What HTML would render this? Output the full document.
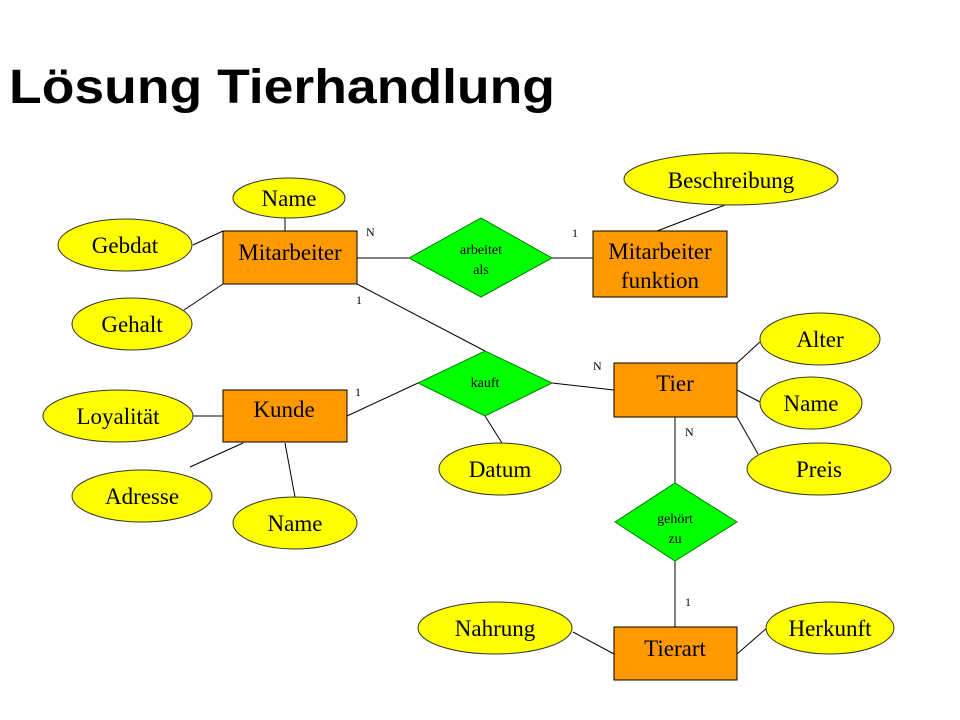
<!DOCTYPE html>
<html><head><meta charset="utf-8"><style>
html,body{margin:0;padding:0;background:#fff;width:960px;height:720px;overflow:hidden}
svg{display:block}
</style></head><body>
<svg width="960" height="720" viewBox="0 0 960 720">
<text x="9" y="103" font-family="Liberation Sans,sans-serif" font-weight="bold" font-size="48" fill="#000" textLength="546" lengthAdjust="spacingAndGlyphs">Lösung Tierhandlung</text>
<g stroke="#000" stroke-width="1" fill="none">
<line x1="285" y1="218" x2="285" y2="231"/>
<line x1="193" y1="245" x2="223" y2="231"/>
<line x1="184" y1="310" x2="223" y2="284"/>
<line x1="357" y1="258" x2="409" y2="258"/>
<line x1="552" y1="258" x2="593" y2="258"/>
<line x1="725" y1="205" x2="657" y2="231"/>
<line x1="357" y1="284" x2="485" y2="351"/>
<line x1="347" y1="416" x2="418" y2="383"/>
<line x1="552" y1="383" x2="614" y2="390"/>
<line x1="485" y1="416" x2="502" y2="443"/>
<line x1="193" y1="416" x2="223" y2="416"/>
<line x1="190" y1="467" x2="243" y2="443"/>
<line x1="285" y1="443" x2="295" y2="497"/>
<line x1="737" y1="363" x2="762" y2="340"/>
<line x1="737" y1="390" x2="762" y2="403"/>
<line x1="737" y1="417" x2="758" y2="454"/>
<line x1="675" y1="417" x2="675" y2="483"/>
<line x1="675" y1="561" x2="675" y2="627"/>
<line x1="573" y1="632" x2="614" y2="654"/>
<line x1="768" y1="627" x2="737" y2="654"/>
</g>
<g fill="#ffff00" stroke="#333" stroke-width="1">
<ellipse cx="289" cy="198" rx="56" ry="20"/>
<ellipse cx="125" cy="245" rx="67" ry="26"/>
<ellipse cx="132" cy="324" rx="60" ry="26"/>
<ellipse cx="731" cy="179" rx="107" ry="26"/>
<ellipse cx="118" cy="416" rx="75" ry="26"/>
<ellipse cx="142" cy="496" rx="70" ry="26"/>
<ellipse cx="295" cy="523" rx="62" ry="26"/>
<ellipse cx="500" cy="469" rx="61" ry="26"/>
<ellipse cx="820" cy="339" rx="60" ry="26"/>
<ellipse cx="811" cy="403" rx="51" ry="26"/>
<ellipse cx="819" cy="469" rx="72" ry="26"/>
<ellipse cx="495" cy="628" rx="77" ry="26"/>
<ellipse cx="830" cy="628" rx="64" ry="26"/>
</g>
<g fill="#ff9900" stroke="#000" stroke-width="1">
<rect x="223" y="231" width="134" height="53"/>
<rect x="593" y="231" width="134" height="66"/>
<rect x="223" y="390" width="124" height="52"/>
<rect x="614" y="363" width="123" height="54"/>
<rect x="614" y="627" width="123" height="53"/>
</g>
<g fill="#00ff00" stroke="#008000" stroke-width="1">
<polygon points="409,258 481,218 552,258 481,297"/>
<polygon points="418,383 485,351 552,383 485,416"/>
<polygon points="615,522 675,483 737,522 675,561"/>
</g>
<g font-family="'Liberation Serif', serif" font-size="23" fill="#000" text-anchor="middle">
<text x="289" y="206">Name</text>
<text x="125" y="253">Gebdat</text>
<text x="132" y="332">Gehalt</text>
<text x="731" y="188">Beschreibung</text>
<text x="118" y="424">Loyalität</text>
<text x="142" y="504">Adresse</text>
<text x="295" y="531">Name</text>
<text x="500" y="477">Datum</text>
<text x="820" y="347">Alter</text>
<text x="811" y="411">Name</text>
<text x="819" y="477">Preis</text>
<text x="495" y="636">Nahrung</text>
<text x="830" y="636">Herkunft</text>
<text x="290" y="260">Mitarbeiter</text>
<text x="660" y="259">Mitarbeiter</text>
<text x="660" y="288">funktion</text>
<text x="284" y="417">Kunde</text>
<text x="675" y="391">Tier</text>
<text x="675" y="656">Tierart</text>
</g>
<g font-family="'Liberation Serif', serif" font-size="14" fill="#000" text-anchor="middle">
<text x="481" y="254">arbeitet</text>
<text x="481" y="274">als</text>
<text x="485" y="387">kauft</text>
<text x="675" y="523">gehört</text>
<text x="675" y="543">zu</text>
</g>
<g font-family="'Liberation Serif', serif" font-size="12" fill="#000">
<text x="366" y="236">N</text>
<text x="572" y="237">1</text>
<text x="356" y="304">1</text>
<text x="355" y="396">1</text>
<text x="593" y="370">N</text>
<text x="685" y="436">N</text>
<text x="685" y="606">1</text>
</g>
</svg>
</body></html>
